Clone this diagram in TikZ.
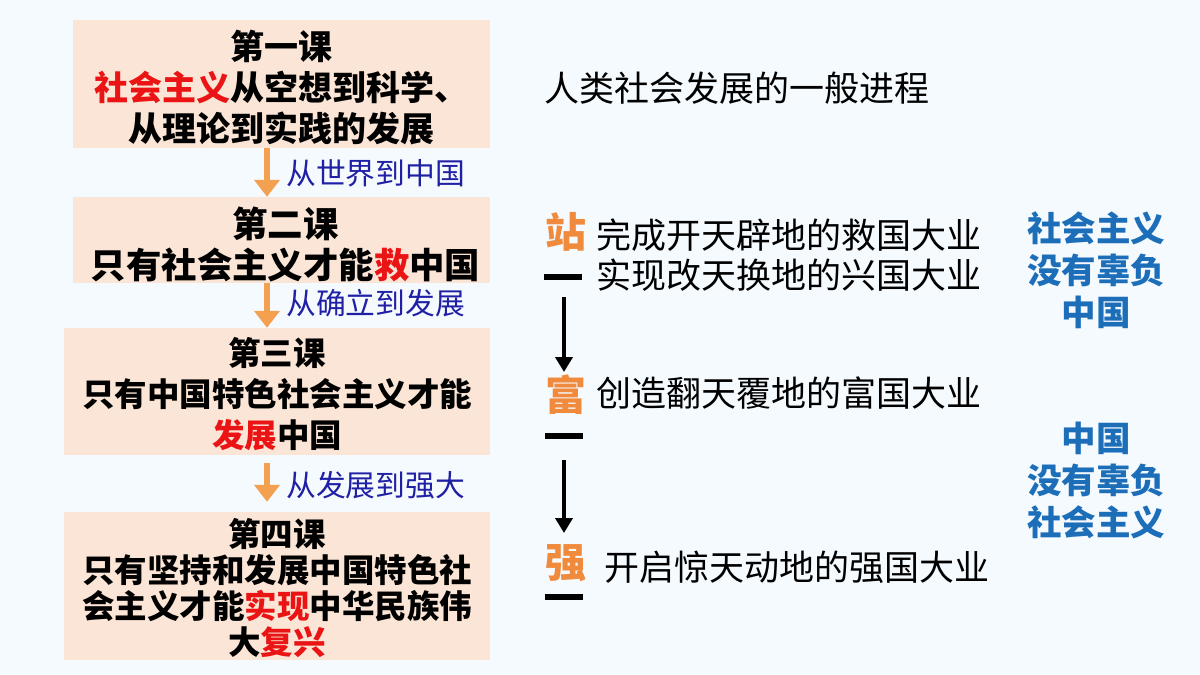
\documentclass[tikz,border=0pt]{standalone}
\usepackage{fontspec}
\newfontfamily\cjk{Noto Sans CJK SC}
\usetikzlibrary{arrows.meta}
\definecolor{bg}{RGB}{245,250,254}
\definecolor{peach}{RGB}{251,229,214}
\definecolor{navyt}{RGB}{32,32,165}
\definecolor{orangeA}{RGB}{243,160,80}
\definecolor{orangeC}{RGB}{240,138,60}
\definecolor{redt}{RGB}{235,20,20}
\definecolor{bluet}{RGB}{28,110,185}
\newcommand{\rd}[1]{\textcolor{redt}{#1}}
\begin{document}
\begin{tikzpicture}[x=1pt,y=-1pt,
  box/.style={fill=peach, inner sep=0pt},
  boxtext/.style={inner sep=0pt, align=center, font=\cjk\bfseries\fontsize{#1}{41}\selectfont},
  oarrow/.style={draw=orangeA, line width=6pt, -{Triangle[width=25pt,length=17pt]}},
  barrow/.style={draw=black, line width=4pt, -{Triangle[width=17pt,length=15pt]}},
  steplabel/.style={anchor=west, inner sep=0pt, text=navyt, font=\cjk\fontsize{29.8}{34}\selectfont},
  stagechar/.style={inner sep=0pt, text=orangeC, font=\cjk\bfseries\fontsize{41}{46}\selectfont},
  stagedash/.style={fill=black, inner sep=0pt, minimum height=5.5pt, minimum width=38pt},
  righttext/.style={anchor=west, inner sep=0pt, text=black, font=\cjk\fontsize{35}{40}\selectfont},
  bluetext/.style={inner sep=0pt, align=center, text=bluet, font=\cjk\bfseries\fontsize{34.5}{42}\selectfont}]
\useasboundingbox (0,0) rectangle (1200,675);
\fill[bg] (0,0) rectangle (1200,675);

% left boxes
\node[box, minimum width=417pt, minimum height=128pt] (b1) at (281.5,84) {};
\node[box, minimum width=417pt, minimum height=86pt] (b2) at (281.5,240) {};
\node[box, minimum width=426pt, minimum height=127pt] (b3) at (277,391.5) {};
\node[box, minimum width=426pt, minimum height=148pt] (b4) at (277,586) {};

\node[boxtext=34] (x1) at ([yshift=-3.5pt]b1.center)
  {第一课\\\rd{社会主义}从空想到科学、\\从理论到实践的发展};
\node[boxtext=35.4] (x2) at ([xshift=4pt,yshift=-4.5pt]b2.center)
  {第二课\\只有社会主义才能\rd{救}中国};
\node[boxtext=32.5] (x3) at ([yshift=-3pt]b3.center)
  {第三课\\只有中国特色社会主义才能\\\rd{发展}中国};
\node[inner sep=0pt, align=center, font=\cjk\bfseries\fontsize{32.5}{36}\selectfont] (x4) at ([yshift=-2.5pt]b4.center)
  {第四课\\只有坚持和发展中国特色社\\会主义才能\rd{实现}中华民族伟\\大\rd{复兴}};

\coordinate (ax) at (267,0);
\draw[oarrow] (b1.south -| ax) -- (b2.north -| ax);
\draw[oarrow] (b2.south -| ax) -- (b3.north -| ax);
\draw[oarrow, shorten <=8pt, shorten >=10pt] (b3.south -| ax) -- (b4.north -| ax);

\node[steplabel] (l1) at (286,173) {从世界到中国};
\node[steplabel] (l2) at (286,303) {从确立到发展};
\node[steplabel] (l3) at (286,485) {从发展到强大};

% right column
\node[righttext] (title) at (544,88) {人类社会发展的一般进程};

\node[stagechar] (zhan) at (566,232) {站};
\node[stagedash] (d1) at (563,277) {};
\node[stagechar] (fu) at (566,395) {富};
\node[stagedash] (d2) at (563.5,436) {};
\node[stagechar] (qiang) at (566,563) {强};
\node[stagedash] (d3) at (563.5,597) {};

\coordinate (bx) at (564,0);
\draw[barrow, shorten <=20pt, shorten >=23pt] (d1.center -| bx) -- (fu.center -| bx);
\draw[barrow, shorten <=24pt, shorten >=30pt] (d2.center -| bx) -- (qiang.center -| bx);

\node[righttext] (t1) at (596,235) {完成开天辟地的救国大业};
\node[righttext] (t2) at (596,275) {实现改天换地的兴国大业};
\node[righttext] (t3) at (596,393) {创造翻天覆地的富国大业};
\node[righttext] (t4) at (604,567) {开启惊天动地的强国大业};

\node[bluetext] (g1) at (1096,270) {社会主义\\没有辜负\\中国};
\node[bluetext] (g2) at (1096,480) {中国\\没有辜负\\社会主义};
\end{tikzpicture}
\end{document}
